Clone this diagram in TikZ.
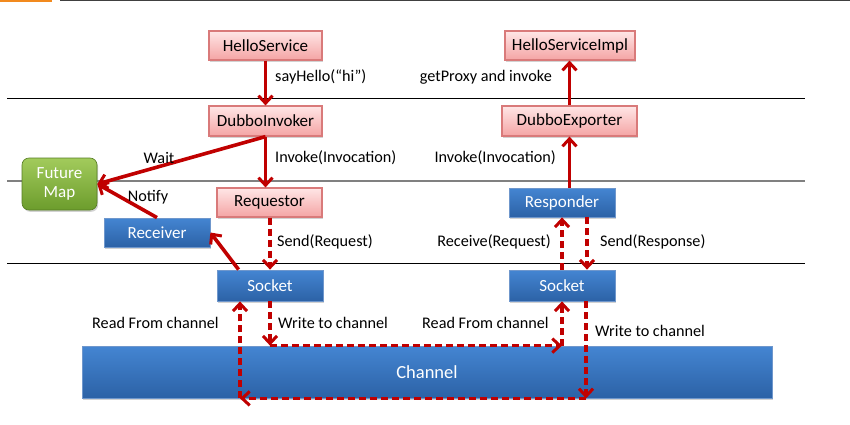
\documentclass[tikz,border=0pt]{standalone}
\usepackage{fontspec}
\setmainfont{Carlito}
\usetikzlibrary{arrows.meta,shadows}
\definecolor{arr}{HTML}{C00000}
\definecolor{pinktop}{HTML}{FFE6E6}
\definecolor{pinkbot}{HTML}{F4A4A4}
\definecolor{pinkline}{HTML}{D97A7A}
\definecolor{bluetop}{HTML}{4485D2}
\definecolor{bluebot}{HTML}{2C62A6}
\definecolor{blueline}{HTML}{6F97CC}
\definecolor{greentop}{HTML}{A2CB5C}
\definecolor{greenbot}{HTML}{6C9C2C}
\definecolor{orangebar}{HTML}{F28A1E}
\tikzset{
  lbl/.style={font=\fontsize{16.2}{18}\selectfont, inner sep=0pt, text=black},
  boxbase/.style={rectangle, inner sep=0pt, font=\fontsize{17}{19}\selectfont,
     drop shadow={shadow xshift=1.2pt, shadow yshift=-1.8pt, opacity=0.35, fill=gray}},
  pinkbox/.style={boxbase, draw=pinkline, line width=1.2pt, top color=pinktop, bottom color=pinkbot, text=black},
  bluebox/.style={boxbase, draw=blueline, line width=0.8pt, top color=bluetop, bottom color=bluebot, text=white},
  greenbox/.style={boxbase, rounded corners=7pt, draw=greenbot!80!black, line width=0.6pt, top color=greentop, bottom color=greenbot, text=white},
  solidarr/.style={draw=arr, line width=3.6pt, -{Straight Barb[length=7.5pt,width=14pt,line width=3pt]}},
  dasharr/.style={draw=arr, line width=3.4pt, dash pattern=on 7pt off 4pt, -{Straight Barb[length=7.5pt,width=14pt,line width=3pt]}},
}
\begin{document}
\begin{tikzpicture}[x=1pt,y=-1pt]
\useasboundingbox (0,0) rectangle (850,425);
\fill[white] (0,0) rectangle (850,425);
% top decoration
\fill[orangebar] (0,0) rectangle (52,2.4);
\draw[black!75, line width=1.6pt] (60,0.7) -- (850,0.7);
% layer lines
\draw[black, line width=0.9pt] (7,98) -- (805,98);
\draw[black!50, line width=1.5pt] (7,181) -- (805,181);
\draw[black, line width=0.9pt] (7,263) -- (805,263);

% nodes
\node[pinkbox, minimum width=113, minimum height=29] (hs) at (265.5,45.5) {HelloService};
\node[pinkbox, minimum width=113, minimum height=30] (di) at (265.5,121) {DubboInvoker};
\node[pinkbox, minimum width=130, minimum height=29] (hsi) at (570,45.5) {HelloServiceImpl};
\node[pinkbox, minimum width=135, minimum height=30] (de) at (569.5,121) {DubboExporter};
\node[greenbox, minimum width=75, minimum height=52, align=center, font=\fontsize{17}{19}\selectfont] (fm) at (59.5,184) {Future\\Map};
\node[pinkbox, minimum width=105, minimum height=29] (req) at (269.5,202.5) {Requestor};
\node[bluebox, minimum width=106, minimum height=29] (rcv) at (157,232.5) {Receiver};
\node[bluebox, minimum width=106, minimum height=29] (resp) at (562,202.5) {Responder};
\node[bluebox, minimum width=106, minimum height=31] (sockL) at (270,285.5) {Socket};
\node[bluebox, minimum width=106, minimum height=31] (sockR) at (562,285.5) {Socket};
\node[bluebox, minimum width=690, minimum height=52, font=\fontsize{18.5}{20}\selectfont] (ch) at (427,372) {Channel};

% solid arrows
\draw[solidarr] (hs.south) -- (di.south |- di.north);
\draw[solidarr] (de.north) -- (de.north |- hsi.south);
\draw[solidarr] (di.south) -- (di.south |- req.north);
\draw[solidarr] (di.south) -- (fm.east);
\draw[solidarr] (rcv.north) -- (fm.east);
\draw[solidarr] ([xshift=22pt]sockL.north west) -- (rcv.east);
\draw[solidarr] (de.south |- resp.north) -- (de.south);

% dashed arrows upper
\draw[dasharr] (req.south -| sockL.north) -- (sockL.north);
\draw[dasharr] (sockR.north) -- (resp.south);
\draw[dasharr] ([xshift=25pt]resp.south) -- ([xshift=25pt]sockR.north);

% channel paths
\coordinate (lw0) at (sockL.south);
\coordinate (lw1) at (sockL.south |- ch.north);
\coordinate (rr1) at (sockR.south |- ch.north);
\coordinate (rr0) at (sockR.south);
\coordinate (rw0) at ([xshift=24pt]sockR.south);
\coordinate (rw1) at ([xshift=24pt]sockR.south |- ch.south);
\coordinate (lr1) at ([xshift=-30pt]sockL.south |- ch.south);
\coordinate (lr0) at ([xshift=-30pt]sockL.south);
\draw[dasharr] (lw0) -- (lw1);
\draw[dasharr] (lw1) -- (rr1);
\draw[dasharr] (rr1) -- (rr0);
\draw[dasharr] (rw0) -- (rw1);
\draw[dasharr] (rw1) -- (lr1);
\draw[dasharr] (lr1) -- (lr0);

% labels
\node[lbl, anchor=west] (l1) at (275,77) {sayHello(“hi”)};
\node[lbl, anchor=east] (l2) at (552,77) {getProxy and invoke};
\node[lbl, anchor=west] (l3) at (275,158) {Invoke(Invocation)};
\node[lbl, anchor=east] (l4) at (556,158) {Invoke(Invocation)};
\node[lbl] (l5) at (159,158) {Wait};
\node[lbl] (l6) at (148,197) {Notify};
\node[lbl, anchor=west] (l7) at (277,242) {Send(Request)};
\node[lbl, anchor=east] (l8) at (551,242) {Receive(Request)};
\node[lbl, anchor=west] (l9) at (600,242) {Send(Response)};
\node[lbl, anchor=west] (l10) at (92,323) {Read From channel};
\node[lbl, anchor=west] (l11) at (278,323) {Write to channel};
\node[lbl, anchor=west] (l12) at (422,323) {Read From channel};
\node[lbl, anchor=west] (l13) at (595,331) {Write to channel};
\end{tikzpicture}
\end{document}
